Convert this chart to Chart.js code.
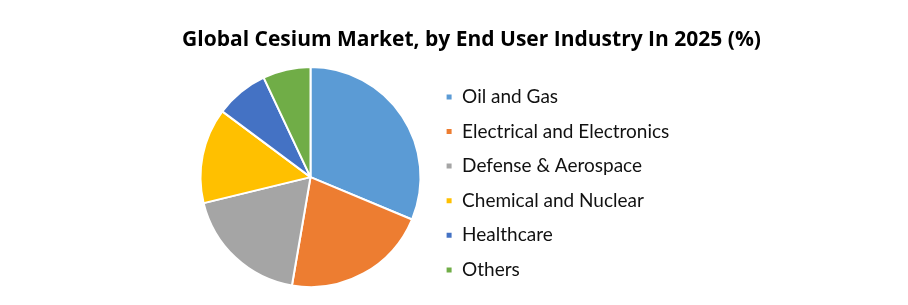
<!DOCTYPE html>
<html>
<head>
<meta charset="utf-8">
<script src="https://cdn.jsdelivr.net/npm/chart.js@4"></script>
<style>
  html, body { margin: 0; padding: 0; background: #fff; }
  #wrap { width: 908px; height: 305px; position: relative; }
</style>
</head>
<body>
<div id="wrap"><canvas id="pieChart"></canvas></div>
<script>
// data
const segments = ["Oil and Gas", "Electrical and Electronics", "Defense & Aerospace", "Chemical and Nuclear", "Healthcare", "Others"];
const shares = [31.3, 21.4, 18.5, 14.0, 7.8, 7.0];
const colors = ["#5B9BD5", "#ED7D31", "#A5A5A5", "#FFC000", "#4472C4", "#70AD47"];
const titleText = "Global Cesium Market, by End User Industry In 2025 (%)";

// title is centred a bit right of the canvas middle, like the original
const wideTitle = {
  id: "wideTitle",
  afterLayout(chart) {
    const t = chart.titleBlock;
    if (t) { t.left = 35; t.right = chart.width; t.width = chart.width - 35; }
  }
};

new Chart(document.getElementById("pieChart"), {
  type: "pie",
  data: {
    labels: segments,
    datasets: [{ data: shares, backgroundColor: colors, borderColor: "#fff", borderWidth: 2 }]
  },
  options: {
    responsive: true,
    maintainAspectRatio: false,
    animation: false,
    radius: 110,
    layout: { padding: { left: 191, right: 239, top: 0, bottom: 10 } },
    plugins: {
      title: {
        display: true,
        text: titleText,
        color: "#000",
        font: { family: "Open Sans", size: 21, weight: "bold" },
        padding: { top: 27, bottom: 7 }
      },
      legend: {
        position: "right",
        align: "end",
        labels: {
          boxWidth: 7,
          boxHeight: 7,
          padding: 15.6,
          color: "#111",
          font: { family: "Lato", size: 19 }
        }
      },
      tooltip: { enabled: false }
    }
  },
  plugins: [wideTitle]
});
</script>
</body>
</html>
